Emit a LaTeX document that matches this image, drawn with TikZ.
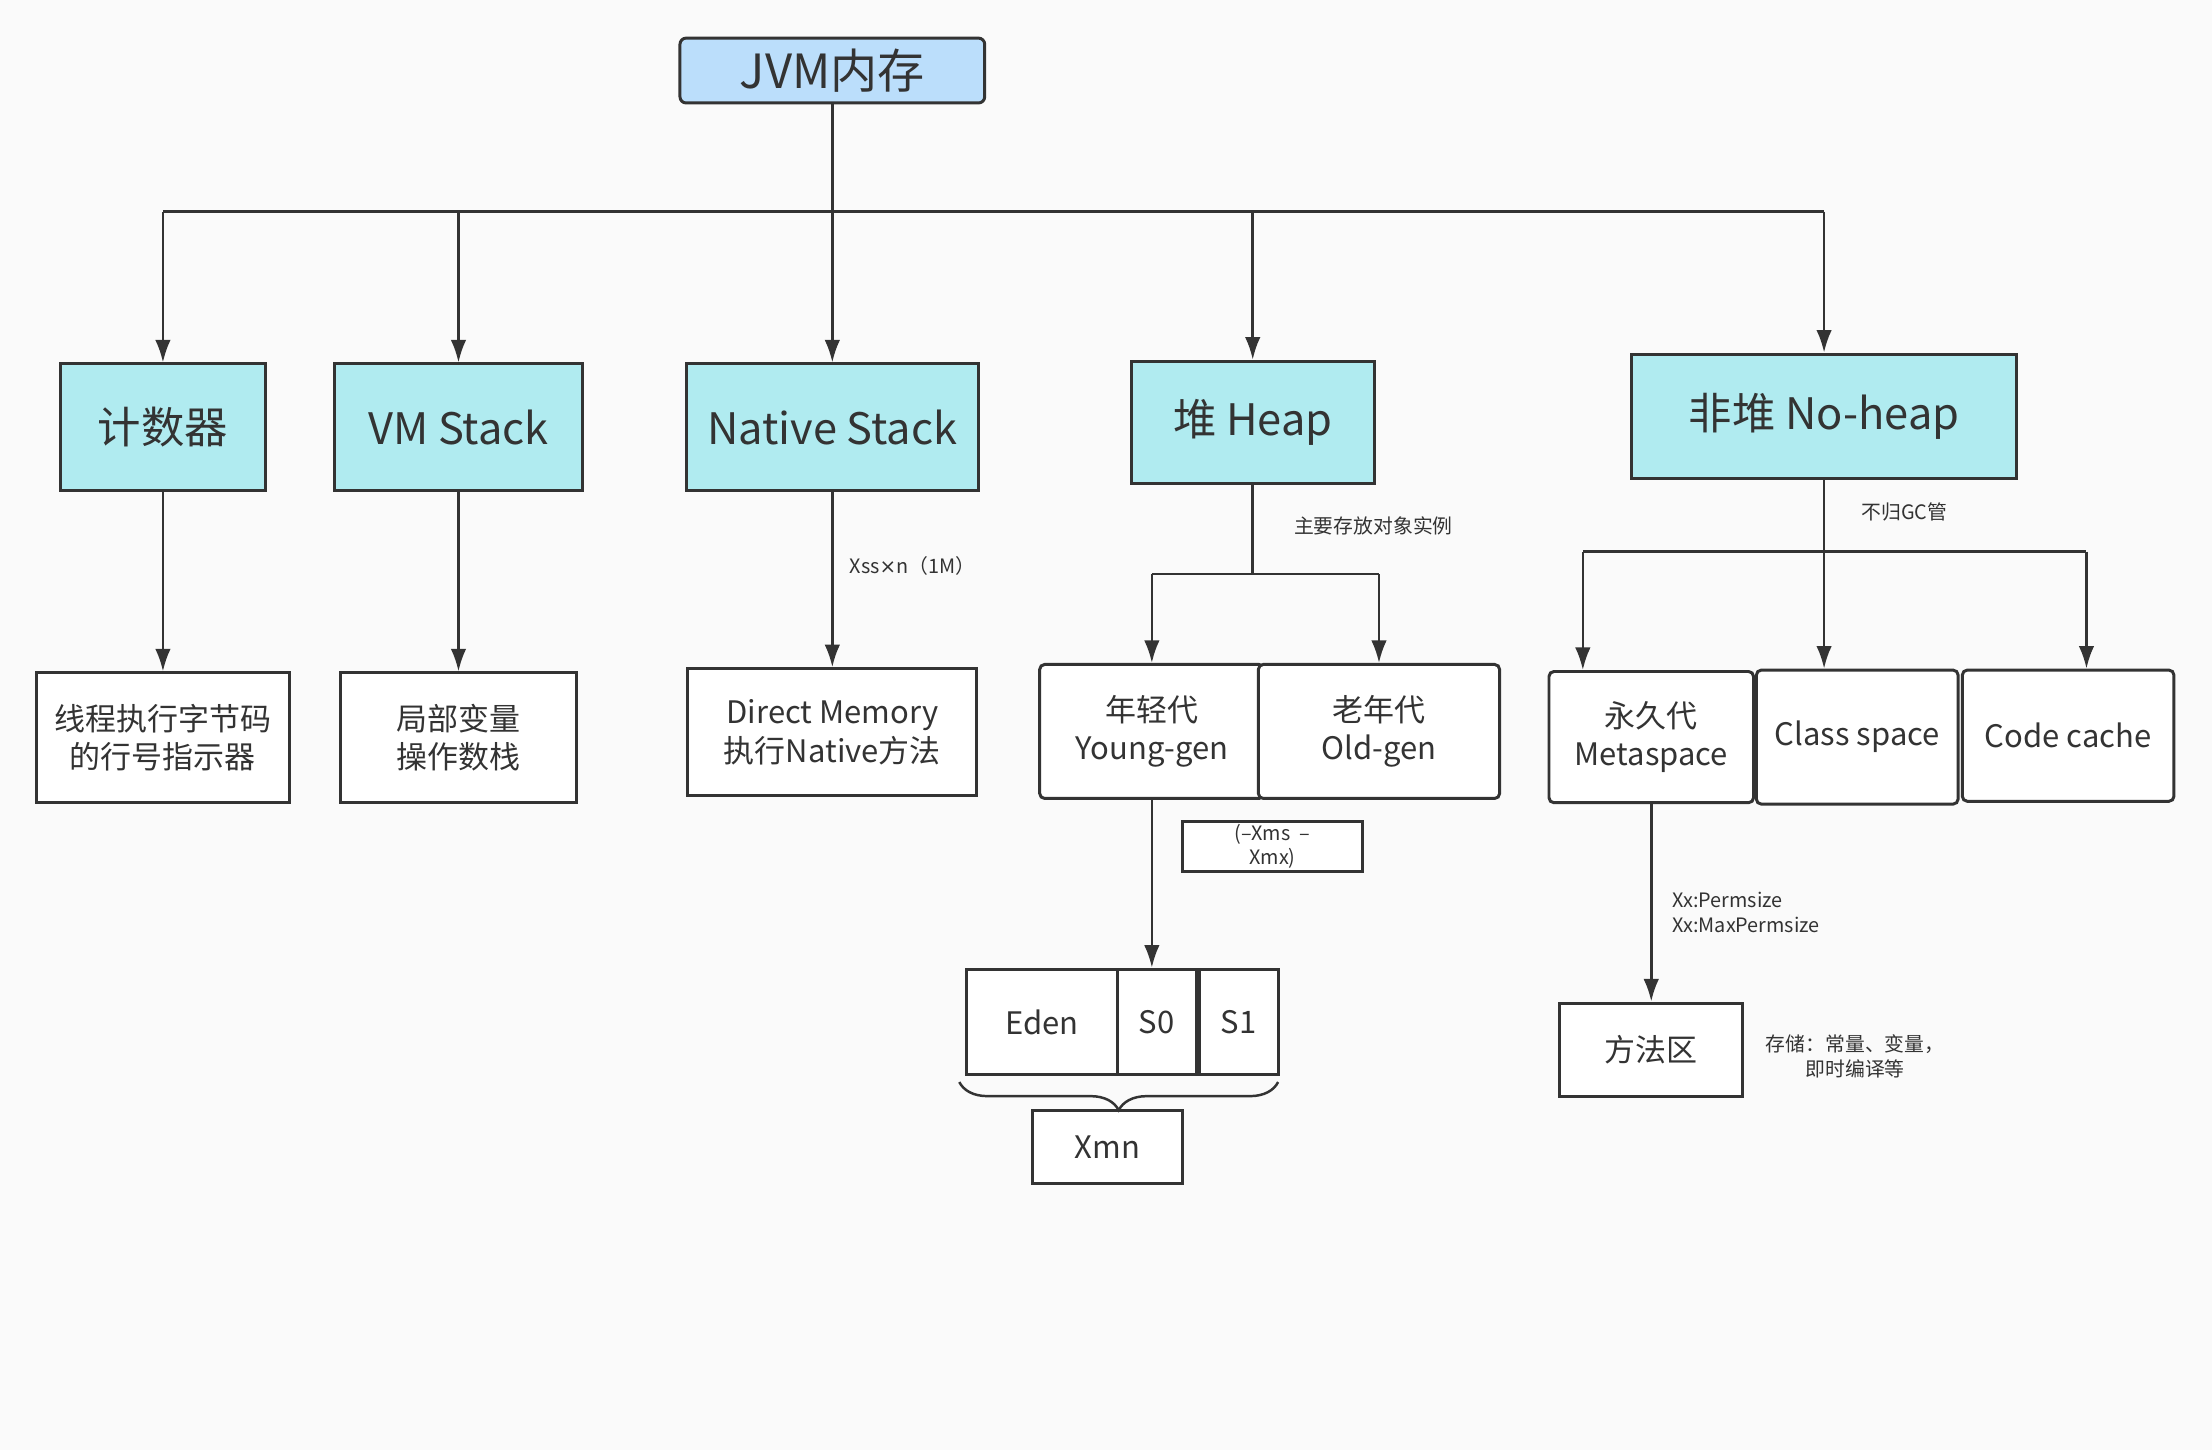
\documentclass[tikz,border=0pt]{standalone}
\usepackage{fontspec}
\setmainfont{Noto Sans CJK SC}
\newfontfamily\symfont{DejaVu Sans}
\usepackage{tikz}
\usetikzlibrary{arrows.meta}
\usetikzlibrary{decorations.pathreplacing}

\definecolor{bgcol}{RGB}{250,250,250}
\definecolor{linecol}{RGB}{51,51,51}
\definecolor{topcol}{RGB}{187,222,251}
\definecolor{areacol}{RGB}{176,235,240}

\tikzset{
  basebox/.style={draw=linecol, line width=1.2pt, fill=white, text=linecol, align=center, inner sep=0pt},
  topbox/.style={basebox, fill=topcol, rounded corners=2.5pt, font=\fontsize{19}{22}\selectfont},
  areabox/.style={basebox, fill=areacol, font=\fontsize{17.5}{22}\selectfont},
  partbox/.style={basebox, font=\fontsize{12.5}{15.5}\selectfont},
  notelabel/.style={text=linecol, align=left, inner sep=0pt, font=\fontsize{8}{10.2}\selectfont},
  wire/.style={draw=linecol, line width=1pt},
  conn/.style={wire, -{Latex[length=3.2mm,width=2.2mm]}},
}

\begin{document}
\begin{tikzpicture}
	\fill[bgcol] (0,0) rectangle (31.36,-20.56);
	\useasboundingbox (0,0) rectangle (31.36,-20.56);
	% top and first level
	\node[topbox, minimum width=4.32cm, minimum height=0.92cm] (jvm) at (11.8,-1.0) {JVM内存};
	\node[areabox, minimum width=2.9cm, minimum height=1.8cm] (cnt) at (2.31,-6.06) {计数器};
	\node[areabox, minimum width=3.52cm, minimum height=1.8cm] (vms) at (6.5,-6.06) {VM Stack};
	\node[areabox, minimum width=4.14cm, minimum height=1.8cm] (nats) at (11.8,-6.06) {Native Stack};
	\node[areabox, minimum width=3.44cm, minimum height=1.74cm] (heap) at (17.76,-5.99) {堆 Heap};
	\node[areabox, minimum width=5.46cm, minimum height=1.76cm] (noheap) at (25.86,-5.9) {非堆 No-heap};
	\coordinate (bus) at (11.8,-3.0);
	\draw[wire] (cnt.north |- bus) -- (noheap.north |- bus);
	\draw[conn] (jvm) -- (nats);
	\draw[conn] (cnt.north |- bus) -- (cnt.north);
	\draw[conn] (vms.north |- bus) -- (vms.north);
	\draw[conn] (heap.north |- bus) -- (heap.north);
	\draw[conn] (noheap.north |- bus) -- (noheap.north);
	% second level
	\node[partbox, minimum width=3.58cm, minimum height=1.84cm] (pc) at (2.31,-10.46) {线程执行字节码\\的行号指示器};
	\node[partbox, minimum width=3.34cm, minimum height=1.84cm] (locl) at (6.5,-10.46) {局部变量\\操作数栈};
	\node[partbox, minimum width=4.1cm, minimum height=1.8cm] (direct) at (11.8,-10.38) {Direct Memory\\执行Native方法};
	\draw[conn] (cnt) -- (pc);
	\draw[conn] (vms) -- (locl);
	\draw[conn] (nats) -- (direct);
	\node[notelabel, anchor=west] (xss) at (12.04,-8.02) {Xss{\symfont ×}n（1M）};
	% heap
	\node[partbox, rounded corners=2pt, minimum width=3.18cm, minimum height=1.9cm] (young) at (16.33,-10.37) {年轻代\\Young-gen};
	\node[partbox, rounded corners=2pt, minimum width=3.42cm, minimum height=1.9cm] (old) at (19.55,-10.37) {老年代\\Old-gen};
	\coordinate (hsplit) at (17.76,-8.14);
	\draw[wire] (heap.south) -- (hsplit);
	\draw[wire] (young.north |- hsplit) -- (old.north |- hsplit);
	\draw[conn] (young.north |- hsplit) -- (young.north);
	\draw[conn] (old.north |- hsplit) -- (old.north);
	\node[notelabel, anchor=west] (objs) at (18.34,-7.46) {主要存放对象实例};
	\node[basebox, minimum width=2.56cm, minimum height=0.72cm, font=\fontsize{8}{9.8}\selectfont] (xms) at (18.04,-12.0) {(–Xms\ \ –\\Xmx)};
	\node[partbox, minimum width=2.14cm, minimum height=1.5cm] (eden) at (14.77,-14.49) {Eden};
	\node[partbox, minimum width=1.12cm, minimum height=1.5cm] (s0) at (16.4,-14.49) {S0};
	\node[partbox, minimum width=1.12cm, minimum height=1.5cm] (s1) at (17.56,-14.49) {S1};
	\draw[conn] (young.south) -- (young.south |- s0.north);
	\node[partbox, minimum width=2.12cm, minimum height=1.04cm] (xmn) at (15.7,-16.26) {Xmn};
	\coordinate (brl) at (13.6,-15.34);
	\coordinate (brr) at (18.12,-15.34);
	\draw[wire, decorate, decoration={brace, mirror, amplitude=0.4cm}] (brl) -- (brr);
	% no-heap
	\node[partbox, rounded corners=2pt, minimum width=2.9cm, minimum height=1.86cm] (perm) at (23.41,-10.45) {永久代\\Metaspace};
	\node[partbox, rounded corners=2pt, minimum width=2.86cm, minimum height=1.9cm] (cls) at (26.33,-10.45) {Class space};
	\node[partbox, rounded corners=2pt, minimum width=3.0cm, minimum height=1.86cm] (code) at (29.32,-10.43) {Code cache};
	\coordinate (nhl) at (22.44,-7.82);
	\coordinate (nhr) at (29.58,-7.82);
	\draw[wire] (noheap.south) -- (noheap.south |- nhl);
	\draw[wire] (nhl) -- (nhr);
	\draw[conn] (nhl) -- (nhl |- perm.north);
	\draw[conn] (noheap.south |- nhl) -- (noheap.south |- cls.north);
	\draw[conn] (nhr) -- (nhr |- code.north);
	\node[notelabel] (gc) at (27.0,-7.26) {不归GC管};
	\node[partbox, minimum width=2.6cm, minimum height=1.32cm] (method) at (23.41,-14.88) {方法区};
	\draw[conn] (perm) -- (method);
	\node[notelabel, anchor=west] (perms) at (23.7,-12.94) {Xx:Permsize\\Xx:MaxPermsize};
	\node[notelabel, align=center] (store) at (26.3,-14.98) {存储：常量、变量，\\即时编译等};
\end{tikzpicture}
\end{document}
